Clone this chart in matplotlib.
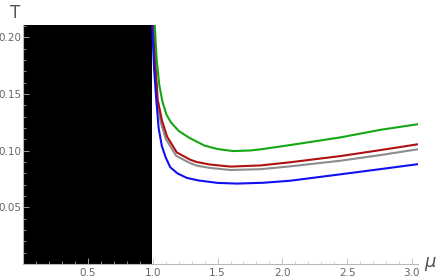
import matplotlib.pyplot as plt
from matplotlib.ticker import MultipleLocator

# excluded region (black), mu range
black_mu = [0.0, 0.992]
black_T = [0.0, 0.211]

mu_green = [1.015, 1.030, 1.050, 1.075, 1.105, 1.140, 1.200, 1.280, 1.400, 1.500, 1.620, 1.750, 1.830, 2.060, 2.450, 2.760, 3.058]
T_green = [0.211, 0.180, 0.158, 0.143, 0.132, 0.125, 0.1175, 0.1115, 0.1045, 0.1015, 0.0997, 0.1002, 0.1012, 0.105, 0.1118, 0.1185, 0.1236]

mu_red = [1.009, 1.022, 1.038, 1.070, 1.110, 1.185, 1.290, 1.340, 1.443, 1.600, 1.830, 2.060, 2.450, 2.760, 3.058]
T_red = [0.211, 0.172, 0.145, 0.127, 0.1125, 0.0985, 0.0920, 0.0900, 0.0878, 0.0860, 0.0870, 0.0898, 0.0953, 0.1006, 0.1059]

mu_gray = [1.005, 1.018, 1.033, 1.062, 1.100, 1.180, 1.290, 1.340, 1.443, 1.600, 1.830, 2.060, 2.450, 2.760, 3.058]
T_gray = [0.211, 0.172, 0.145, 0.125, 0.1105, 0.0955, 0.0890, 0.0868, 0.0848, 0.0830, 0.0837, 0.0862, 0.0912, 0.0962, 0.1015]

mu_blue = [0.995, 1.010, 1.027, 1.045, 1.070, 1.100, 1.134, 1.190, 1.263, 1.350, 1.500, 1.650, 1.850, 2.060, 2.450, 2.760, 3.058]
T_blue = [0.211, 0.172, 0.145, 0.120, 0.104, 0.094, 0.0855, 0.0800, 0.0760, 0.0738, 0.0716, 0.0710, 0.0717, 0.0735, 0.0792, 0.0838, 0.0883]

x_ticks = [0.5, 1.0, 1.5, 2.0, 2.5, 3.0]
y_ticks = [0.05, 0.10, 0.15, 0.20]

fig = plt.figure(figsize=(4.36, 2.78), dpi=100)
ax = fig.add_axes([23.3 / 436, (278 - 264) / 278, 395 / 436, 239 / 278])

ax.fill_between(black_mu, black_T[0], black_T[1], color='black', lw=0, zorder=1)
lw = 1.5
ax.plot(mu_gray, T_gray, color='#8c8c8c', lw=lw, zorder=2)
ax.plot(mu_red, T_red, color='#b01010', lw=lw, zorder=3)
ax.plot(mu_green, T_green, color='#13a813', lw=lw, zorder=3)
ax.plot(mu_blue, T_blue, color='#1010f0', lw=lw, zorder=3)

ax.set_xlim(0, 3.05)
ax.set_ylim(0, 0.211)
for s in ['top', 'right']:
    ax.spines[s].set_visible(False)
for s in ['left', 'bottom']:
    ax.spines[s].set_color('#b8b8b8')
    ax.spines[s].set_linewidth(0.8)

ax.set_xticks(x_ticks)
ax.set_xticklabels(['%.1f' % v for v in x_ticks])
ax.set_yticks(y_ticks)
ax.set_yticklabels(['%.2f' % v for v in y_ticks])
ax.xaxis.set_minor_locator(MultipleLocator(0.1))
ax.yaxis.set_minor_locator(MultipleLocator(0.01))
ax.tick_params(which='major', direction='in', length=4, width=0.6, color='#b8b8b8',
               labelsize=7.5, labelcolor='#666666', pad=3)
ax.tick_params(axis='y', which='major', pad=1.5)
ax.tick_params(which='minor', direction='in', length=2, width=0.5, color='#c8c8c8')

fig.text(15 / 436, 1 - 13 / 278, 'T', fontsize=12, color='#555555', ha='center', va='center')
fig.text(430 / 436, 1 - 264 / 278, r'$\mu$', fontsize=13, color='#555555', ha='center', va='center')

fig.savefig('out.png', dpi=100)
